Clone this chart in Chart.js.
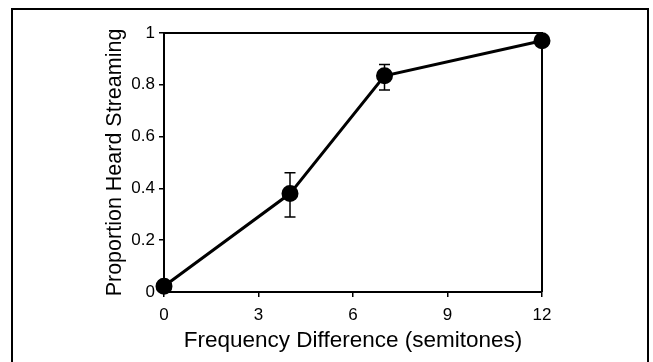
<!DOCTYPE html>
<html>
<head>
<meta charset="utf-8">
<script src="https://cdn.jsdelivr.net/npm/chart.js@4.4.0/dist/chart.umd.min.js"></script>
<style>
  html, body { margin: 0; padding: 0; background: #fff; overflow: hidden; }
  #frame { position: absolute; left: 11px; top: 8px; width: 634px; height: 400px; border: 2px solid #000; }
  #wrap { position: absolute; left: 0; top: 0; width: 653px; height: 362px; }
</style>
</head>
<body>
<div id="frame"></div>
<div id="wrap"><canvas id="chart"></canvas></div>
<script>
// Frequency difference (semitones) and proportion heard streaming
const semitones = [0, 4, 7, 12];
const proportion = [0.022, 0.38, 0.835, 0.97];
const errLow = [null, 0.29, 0.78, 0.96];
const errHigh = [null, 0.46, 0.878, 0.98];
const xTicks = [0, 3, 6, 9, 12];
const yTicks = [0, 0.2, 0.4, 0.6, 0.8, 1];
const yTickLabels = ['0', '0.2', '0.4', '0.6', '0.8', '1'];

const FONT = 'Liberation Sans, Arial, Helvetica, sans-serif';

// Box round the plot area and error bars
const boxAndErrors = {
    id: 'boxAndErrors',
    afterDatasetsDraw(chart) {
        const { ctx, chartArea, scales } = chart;
        ctx.save();
        ctx.strokeStyle = '#000';
        ctx.lineWidth = 2;
        ctx.beginPath();
        ctx.moveTo(chartArea.left, chartArea.top);
        ctx.lineTo(chartArea.right, chartArea.top);
        ctx.lineTo(chartArea.right, chartArea.bottom);
        ctx.stroke();

        ctx.lineWidth = 1.5;
        semitones.forEach((s, i) => {
            if (errLow[i] == null) return;
            const x = scales.x.getPixelForValue(s);
            const y1 = scales.y.getPixelForValue(errLow[i]);
            const y2 = scales.y.getPixelForValue(errHigh[i]);
            ctx.beginPath();
            ctx.moveTo(x, y1); ctx.lineTo(x, y2);
            ctx.moveTo(x - 5.5, y1); ctx.lineTo(x + 5.5, y1);
            ctx.moveTo(x - 5.5, y2); ctx.lineTo(x + 5.5, y2);
            ctx.stroke();
        });
        ctx.restore();
    }
};

new Chart(document.getElementById('chart'), {
    type: 'scatter',
    data: {
        datasets: [{
            data: semitones.map((s, i) => ({ x: s, y: proportion[i] })),
            showLine: true,
            borderColor: '#000',
            borderWidth: 3,
            backgroundColor: '#000',
            pointRadius: 7,
            pointHoverRadius: 7,
            clip: false
        }]
    },
    options: {
        responsive: true,
        maintainAspectRatio: false,
        animation: false,
        events: [],
        layout: { padding: { left: 0, top: 33, right: 111, bottom: 0 } },
        plugins: { legend: { display: false }, tooltip: { enabled: false } },
        scales: {
            x: {
                type: 'linear', min: 0, max: 12,
                afterBuildTicks: (scale) => { scale.ticks = xTicks.map(v => ({ value: v })); },
                afterFit: (scale) => { scale.height = 70; },
                grid: { drawOnChartArea: false, drawTicks: true, tickLength: 5, color: '#000', lineWidth: 1.5 },
                border: { display: true, color: '#000', width: 2 },
                ticks: { color: '#000', font: { family: FONT, size: 17 }, padding: 8, maxRotation: 0 },
                title: { display: true, text: 'Frequency Difference (semitones)', color: '#000',
                         font: { family: FONT, size: 22.5 }, padding: { top: 0, bottom: 8 } }
            },
            y: {
                type: 'linear', min: 0, max: 1,
                afterBuildTicks: (scale) => { scale.ticks = yTicks.map(v => ({ value: v })); },
                afterFit: (scale) => { scale.width = 164; },
                grid: { drawOnChartArea: false, drawTicks: true, tickLength: 5, color: '#000', lineWidth: 1.5 },
                border: { display: true, color: '#000', width: 2 },
                ticks: { color: '#000', font: { family: FONT, size: 17 }, padding: 4,
                         callback: (v) => yTickLabels[yTicks.indexOf(v)] },
                title: { display: true, text: 'Proportion Heard Streaming', color: '#000',
                         font: { family: FONT, size: 21.5 }, padding: { top: 102, bottom: 0 } }
            }
        }
    },
    plugins: [boxAndErrors]
});
</script>
</body>
</html>
